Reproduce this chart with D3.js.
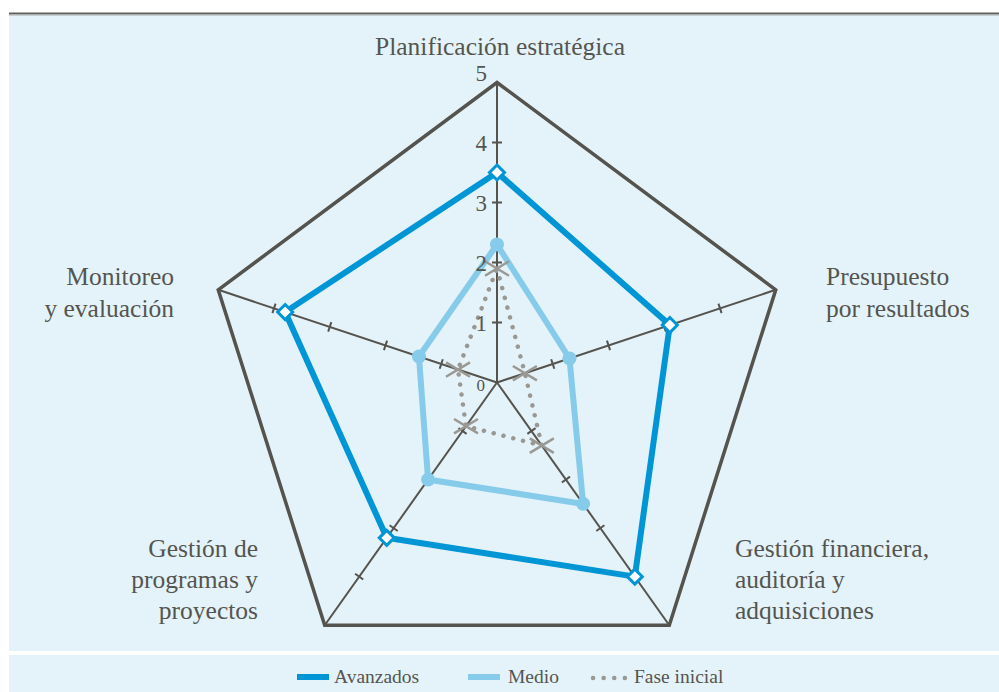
<!DOCTYPE html>
<html>
<head>
<meta charset="utf-8">
<script src="https://cdn.jsdelivr.net/npm/d3@7"></script>
<style>
  html, body { margin: 0; padding: 0; background: #ffffff; }
  svg { display: block; }
  text { font-family: "Liberation Serif", "DejaVu Serif", serif; fill: #555550; }
</style>
</head>
<body>
<svg id="chart" width="999" height="692"></svg>
<script>
// Dimensions evaluated on a 0–5 scale
const categories = [
  ["Planificación estratégica"],
  ["Presupuesto", "por resultados"],
  ["Gestión financiera,", "auditoría y", "adquisiciones"],
  ["Gestión de", "programas y", "proyectos"],
  ["Monitoreo", "y evaluación"]
];
const avanzados   = [3.5, 3.1, 4.0, 3.2, 3.8];
const medio       = [2.3, 1.3, 2.5, 2.0, 1.4];
const faseInicial = [1.9, 0.5, 1.3, 0.9, 0.7];
const tickValues  = [0, 1, 2, 3, 4, 5];
const seriesNames = ["Avanzados", "Medio", "Fase inicial"];

const svg = d3.select("#chart");
const bg = "#e4f3fa";
const axisColor = "#55534d";
const darkBlue = "#0096d6";
const lightBlue = "#86cbea";
const gray = "#9a9893";

// Panels and top rule
svg.append("rect").attr("x", 9).attr("y", 15).attr("width", 990).attr("height", 636).attr("fill", bg);
svg.append("rect").attr("x", 9).attr("y", 655).attr("width", 990).attr("height", 37).attr("fill", bg);
svg.append("line").attr("x1", 9).attr("x2", 999).attr("y1", 13.5).attr("y2", 13.5)
  .attr("stroke", "#5f5f5c").attr("stroke-width", 2);
svg.append("line").attr("x1", 9).attr("x2", 999).attr("y1", 15).attr("y2", 15)
  .attr("stroke", "#a9aaa8").attr("stroke-width", 1);

const cx = 497, cy = 382.5;
const r = d3.scaleLinear().domain([0, 5]).range([0, 300]);
const xStretch = 0.977;
const angle = d3.scaleLinear().domain([0, categories.length]).range([0, 2 * Math.PI]);

function pt(i, v) {
  const a = angle(i);
  return [cx + Math.sin(a) * r(v) * xStretch, cy - Math.cos(a) * r(v)];
}

const g = svg.append("g");

// Spokes
categories.forEach((c, i) => {
  const [x, y] = pt(i, 5);
  g.append("line").attr("x1", cx).attr("y1", cy).attr("x2", x).attr("y2", y)
    .attr("stroke", axisColor).attr("stroke-width", 2);
});

// Tick marks on each spoke
categories.forEach((c, i) => {
  const a = angle(i);
  const ux = Math.sin(a) * xStretch, uy = -Math.cos(a);
  const len = Math.hypot(ux, uy);
  const px = -uy / len, py = ux / len;
  tickValues.filter(t => t > 0 && t < 5).forEach(t => {
    const [x, y] = pt(i, t);
    g.append("line")
      .attr("x1", x - px * 5).attr("y1", y - py * 5)
      .attr("x2", x + px * 5).attr("y2", y + py * 5)
      .attr("stroke", axisColor).attr("stroke-width", 2);
  });
});

// Outer pentagon
const outer = d3.line()(categories.map((c, i) => pt(i, 5)));
g.append("path").attr("d", outer + "Z").attr("fill", "none")
  .attr("stroke", axisColor).attr("stroke-width", 3.5).attr("stroke-linejoin", "miter");

const closed = d3.line().curve(d3.curveLinearClosed);

// Fase inicial (dotted)
g.append("path").attr("d", closed(faseInicial.map((v, i) => pt(i, v))))
  .attr("fill", "none").attr("stroke", gray).attr("stroke-width", 4.5)
  .attr("stroke-linecap", "round").attr("stroke-dasharray", "0.1 10");

// Medio
g.append("path").attr("d", closed(medio.map((v, i) => pt(i, v))))
  .attr("fill", "none").attr("stroke", lightBlue).attr("stroke-width", 6)
  .attr("stroke-linejoin", "miter");

// Avanzados
g.append("path").attr("d", closed(avanzados.map((v, i) => pt(i, v))))
  .attr("fill", "none").attr("stroke", darkBlue).attr("stroke-width", 6)
  .attr("stroke-linejoin", "miter");

// Markers: X for Fase inicial
faseInicial.forEach((v, i) => {
  const [x, y] = pt(i, v);
  const s = 12;
  g.append("path")
    .attr("d", `M${x - s},${y - s * 0.6}L${x + s},${y + s * 0.6}M${x - s},${y + s * 0.6}L${x + s},${y - s * 0.6}`)
    .attr("stroke", gray).attr("stroke-width", 2.5).attr("fill", "none");
});

// Circles for Medio
g.selectAll(".m-dot").data(medio).enter().append("circle")
  .attr("cx", (d, i) => pt(i, d)[0]).attr("cy", (d, i) => pt(i, d)[1])
  .attr("r", 7).attr("fill", lightBlue);

// Diamonds for Avanzados
avanzados.forEach((v, i) => {
  const [x, y] = pt(i, v);
  const s = 7.5;
  g.append("path")
    .attr("d", `M${x},${y - s}L${x + s},${y}L${x},${y + s}L${x - s},${y}Z`)
    .attr("fill", "#ffffff").attr("stroke", darkBlue).attr("stroke-width", 3);
});

// Tick labels along the top spoke, drawn above the series
g.selectAll(".tick-label").data(tickValues).enter().append("text")
  .attr("x", d => d === 0 ? cx - 12 : cx - 10)
  .attr("y", d => pt(0, d)[1] + (d === 5 ? -2 : d === 0 ? 8 : 8))
  .attr("text-anchor", "end")
  .style("font-size", d => d === 0 ? "17px" : "23px")
  .text(d => d);

// Category labels
const labelPos = [
  { x: 500, y: 55, anchor: "middle" },
  { x: 826, y: 285, anchor: "start" },
  { x: 735, y: 557, anchor: "start" },
  { x: 258, y: 557, anchor: "end" },
  { x: 174, y: 285, anchor: "end" }
];
categories.forEach((lines, i) => {
  const p = labelPos[i];
  const t = svg.append("text").attr("text-anchor", p.anchor).style("font-size", "25.5px");
  lines.forEach((ln, k) => {
    t.append("tspan").attr("x", p.x).attr("y", p.y + k * (i === 4 || i === 1 ? 32 : 31)).text(ln);
  });
});

// Legend
const ly = 677;
const legend = svg.append("g");
legend.append("line").attr("x1", 297).attr("x2", 329).attr("y1", ly).attr("y2", ly)
  .attr("stroke", darkBlue).attr("stroke-width", 6);
legend.append("text").attr("x", 334).attr("y", ly + 6).style("font-size", "19.5px").text(seriesNames[0]);
legend.append("line").attr("x1", 468).attr("x2", 500).attr("y1", ly).attr("y2", ly)
  .attr("stroke", lightBlue).attr("stroke-width", 6);
legend.append("text").attr("x", 508).attr("y", ly + 6).style("font-size", "19.5px").text(seriesNames[1]);
legend.append("line").attr("x1", 593).attr("x2", 628).attr("y1", ly + 1).attr("y2", ly + 1)
  .attr("stroke", gray).attr("stroke-width", 4.5).attr("stroke-linecap", "round")
  .attr("stroke-dasharray", "0.1 10.5");
legend.append("text").attr("x", 634).attr("y", ly + 6).style("font-size", "19.5px").text(seriesNames[2]);
</script>
</body>
</html>
